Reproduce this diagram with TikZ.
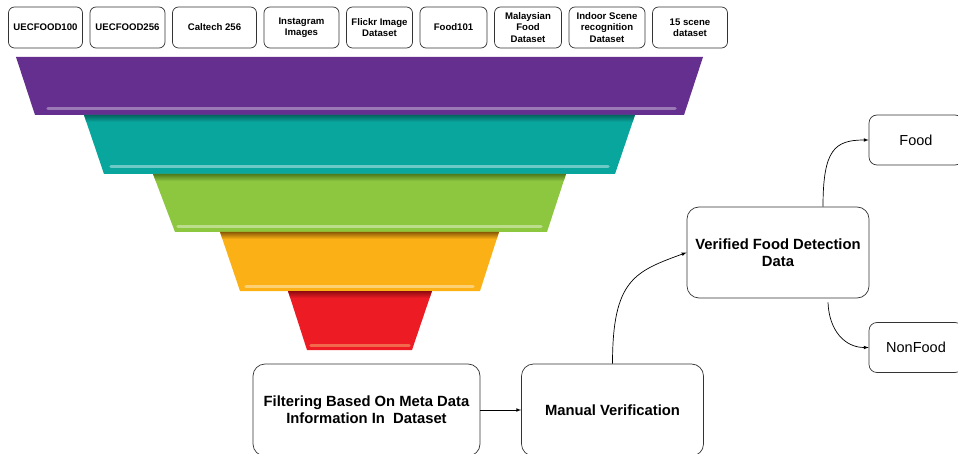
\documentclass[tikz,border=0pt]{standalone}
\usepackage{fontspec}
\setmainfont{Liberation Sans}
\usetikzlibrary{chains, positioning}

\definecolor{bandpurple}{HTML}{652F8F}
\definecolor{bandteal}{HTML}{09A69E}
\definecolor{bandgreen}{HTML}{8DC63F}
\definecolor{bandorange}{HTML}{FBB116}
\definecolor{bandred}{HTML}{ED1C24}
\definecolor{darkteal}{HTML}{04665F}
\definecolor{darkgreen}{HTML}{4F7A1E}
\definecolor{darkorange}{HTML}{8A5A04}
\definecolor{darkred}{HTML}{8E0A10}
\definecolor{shinered}{HTML}{F26A4E}

\begin{document}
\begin{tikzpicture}[x=1pt, y=-1pt]
\tikzset{
  arrow/.style={
    >=latex
  },
  line/.style={
    draw,
    ->,
    line width=0.7pt,
  },
  dataset/.style={
    draw=black!80,
    line width=0.7pt,
    rounded corners=6pt,
    minimum height=41pt,
    inner sep=1pt,
    align=center,
    font=\bfseries\fontsize{9.6}{11.5}\selectfont
  },
  stage/.style={
    draw=black!80,
    line width=0.7pt,
    rounded corners=12pt,
    align=center,
    font=\bfseries\fontsize{14.8}{17}\selectfont
  },
  result/.style={
    draw=black!80,
    line width=0.7pt,
    rounded corners=8pt,
    font=\fontsize{14.5}{17}\selectfont
  },
  shine/.style={
    line width=3.5pt,
    line cap=round
  }
}

\useasboundingbox (0,0) rectangle (958,454);
\clip (0,0) rectangle (958,454);

% Datasets
\begin{scope}[
  start chain=1 going right, node distance=6.8pt
  ]
\node (uec100) [on chain=1, dataset, minimum width=74pt] at (45.5,27.5) {UECFOOD100};
\node (uec256) [on chain=1, dataset, minimum width=75pt] {UECFOOD256};
\node (caltech) [on chain=1, dataset, minimum width=84pt] {Caltech 256};
\node (insta) [on chain=1, dataset, minimum width=75pt] {Instagram\\Images};
\node (flickr) [on chain=1, dataset, minimum width=66pt] {Flickr Image\\Dataset};
\node (food101) [on chain=1, dataset, minimum width=67pt] {Food101};
\node (malay) [on chain=1, dataset, minimum width=67pt] {Malaysian\\Food\\Dataset};
\node (indoor) [on chain=1, dataset, minimum width=76pt] {Indoor Scene\\recognition\\Dataset};
\node (scene15) [on chain=1, dataset, minimum width=75pt] {15 scene\\dataset};
\end{scope}

% Funnel
\fill[bandpurple] (16,57) -- (703,57) -- (684,115) -- (35,115) -- cycle;
\draw[shine, bandpurple!65!white] (48,108.5) -- (675,108.5);

\fill[bandteal] (84,115) -- (635,115) -- (615,174) -- (104,174) -- cycle;
\shade[top color=darkteal, bottom color=bandteal] (84,115) -- (635,115) -- (632.6,122) -- (86.4,122) -- cycle;
\draw[shine, bandteal!60!white] (111,166.5) -- (608,166.5);

\fill[bandgreen] (153,174) -- (566,174) -- (547,232) -- (175,232) -- cycle;
\shade[top color=darkgreen, bottom color=bandgreen] (153,174) -- (566,174) -- (563.7,181) -- (155.7,181) -- cycle;
\draw[shine, bandgreen!60!white] (178,226.5) -- (541,226.5);

\fill[bandorange] (220,232) -- (499,232) -- (480,291) -- (240,291) -- cycle;
\shade[top color=darkorange, bottom color=bandorange] (220,232) -- (499,232) -- (496.7,239) -- (222.4,239) -- cycle;
\draw[shine, bandorange!60!white] (246,286.5) -- (473,286.5);

\fill[bandred] (288,291) -- (432,291) -- (412,350) -- (307,350) -- cycle;
\shade[top color=darkred, bottom color=bandred] (288,291) -- (432,291) -- (429.6,298) -- (290.3,298) -- cycle;
\draw[shine, shinered] (311,345.5) -- (409,345.5);

% Stages
\node (filter) [stage, minimum width=227pt, minimum height=92pt] at (366.5,410) {Filtering Based On Meta Data\\Information In \ Dataset};
\node (manual) [stage, minimum width=182pt, minimum height=92pt] at (612.5,410) {Manual Verification};
\node (verified) [stage, minimum width=182pt, minimum height=91pt] at (778,252.5) {Verified Food Detection\\Data};
\node (food) [result, minimum width=94pt, minimum height=50pt] at (916,140) {Food};
\node (nonfood) [result, minimum width=94pt, minimum height=50pt] at (916,347.5) {NonFood};

\draw[line, arrow] (filter.east) -- (manual.west);
\draw[line, arrow] (manual.north) .. controls +(0,-84) and +(-52,19) .. (verified.west);
\draw[line, arrow] ([xshift=45pt]verified.north) .. controls +(0,-57) and +(-34,0) .. (food.west);
\draw[line, arrow] ([xshift=50pt, yshift=-4pt]verified.south) .. controls +(1,28) and +(-24,0) .. (nonfood.west);

\end{tikzpicture}
\end{document}
